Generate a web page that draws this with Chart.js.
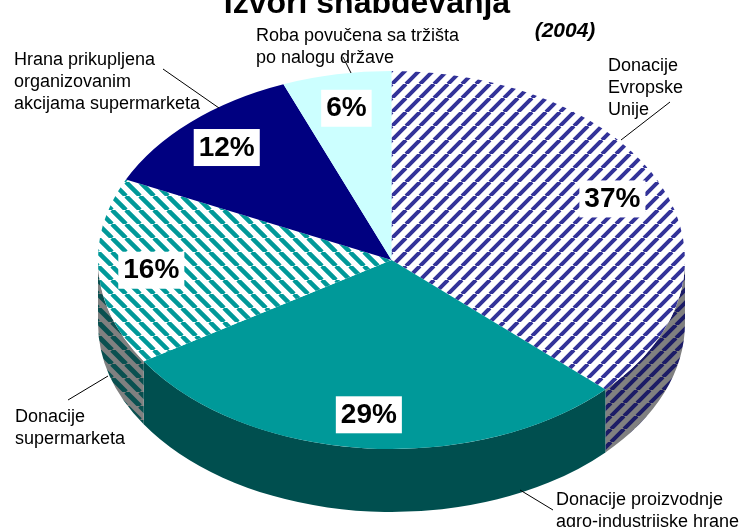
<!DOCTYPE html>
<html>
<head>
<meta charset="utf-8">
<script src="https://cdn.jsdelivr.net/npm/chart.js@4"></script>
<style>
  html, body { margin: 0; padding: 0; background: #fff; }
  canvas { display: block; }
</style>
</head>
<body>
<canvas id="chart" width="744" height="527"></canvas>
<script>
const title = 'Izvori snabdevanja';
const subtitle = '(2004)';
const categories = [
  'Donacije Evropske Unije',
  'Donacije proizvodnje agro-industrijske hrane',
  'Donacije supermarketa',
  'Hrana prikupljena organizovanim akcijama supermarketa',
  'Roba povučena sa tržišta po nalogu države'
];
const shares = [37, 29, 16, 12, 6];
const labelLines = [
  ['Donacije', 'Evropske', 'Unije'],
  ['Donacije proizvodnje', 'agro-industrijske hrane'],
  ['Donacije', 'supermarketa'],
  ['Hrana prikupljena', 'organizovanim', 'akcijama supermarketa'],
  ['Roba povučena sa tržišta', 'po nalogu države']
];

// screen placement of the category captions + leader lines
const captionLayout = [
  { x: 608, y: 71, line: [670, 102, 621, 140] },
  { x: 556, y: 505, line: [553, 510, 520, 490] },
  { x: 15, y: 422, line: [68, 400, 108, 376] },
  { x: 14, y: 65, line: [163, 69, 219, 108] },
  { x: 256, y: 41, line: [343, 57, 351, 73] }
];

// the tilted pie: ellipse of the top face and height of the wall
const pie3d = { cx: 391.5, cy: 260, rx: 293.5, ry: 189, depth: 63, labelAt: 0.82 };

const canvas = document.getElementById('chart');
const ctx = canvas.getContext('2d');

function stripes(bg, fg, size, width, dir) {
  const c = document.createElement('canvas');
  c.width = c.height = size;
  const g = c.getContext('2d');
  g.fillStyle = bg;
  g.fillRect(0, 0, size, size);
  g.strokeStyle = fg;
  g.lineWidth = width;
  g.beginPath();
  for (let k = -1; k <= 1; k++) {
    if (dir === '/') {
      g.moveTo(k * size, size);
      g.lineTo(k * size + size, 0);
    } else {
      g.moveTo(k * size, 0);
      g.lineTo(k * size + size, size);
    }
  }
  g.stroke();
  return ctx.createPattern(c, 'repeat');
}

const euTop = stripes('#ffffff', '#333399', 14, 4, '/');
const superTop = stripes('#ffffff', '#009999', 14, 4.5, '\\');
const topColors = [euTop, '#009999', superTop, '#000080', '#ccffff'];
const sideColors = [
  stripes('#808080', '#1c1c66', 13, 4, '/'),
  '#004f4f',
  stripes('#808080', '#0a5050', 14, 5, '\\'),
  '#000050',
  '#80a0a0'
];

const pie3dPlugin = {
  id: 'pie3d',
  beforeDatasetsDraw(chart) {
    const c = chart.ctx;
    const arcs = chart.getDatasetMeta(0).data;
    const { cx, cy, rx, ry, depth } = pie3d;

    // wall: only the front half can be seen
    arcs.forEach((arc, i) => {
      const a0 = Math.max(arc.startAngle, 0);
      const a1 = Math.min(arc.endAngle, Math.PI);
      if (a1 <= a0) return;
      c.beginPath();
      c.ellipse(cx, cy, rx, ry, 0, a0, a1);
      c.ellipse(cx, cy + depth, rx, ry, 0, a1, a0, true);
      c.closePath();
      c.fillStyle = sideColors[i];
      c.fill();
    });

    // squash the flat pie onto the top ellipse
    const a = arcs[0];
    c.save();
    c.translate(cx, cy);
    c.scale(rx / a.outerRadius, ry / a.outerRadius);
    c.translate(-a.x, -a.y);
    const inv = c.getTransform().inverse();
    euTop.setTransform(inv);
    superTop.setTransform(inv);
  },
  afterDatasetsDraw(chart) {
    chart.ctx.restore();
  },
  afterDraw(chart) {
    const c = chart.ctx;
    const arcs = chart.getDatasetMeta(0).data;
    const { cx, cy, rx, ry, labelAt } = pie3d;

    c.save();
    c.fillStyle = '#000';
    c.textAlign = 'center';
    c.textBaseline = 'alphabetic';
    c.font = 'bold 32px "Liberation Sans", Arial, sans-serif';
    c.fillText(title, 367, 13);
    c.font = 'italic bold 21px "Liberation Sans", Arial, sans-serif';
    c.fillText(subtitle, 565, 37);

    // percentage boxes
    c.font = 'bold 28px "Liberation Sans", Arial, sans-serif';
    c.textBaseline = 'middle';
    arcs.forEach((arc, i) => {
      const mid = (arc.startAngle + arc.endAngle) / 2;
      const x = cx + rx * labelAt * Math.cos(mid);
      const y = cy + ry * labelAt * Math.sin(mid);
      const txt = shares[i] + '%';
      const w = c.measureText(txt).width + 10;
      c.fillStyle = '#fff';
      c.fillRect(x - w / 2, y - 18, w, 37);
      c.fillStyle = '#000';
      c.fillText(txt, x, y + 1);
    });

    // category captions with leader lines
    c.font = '18px "Liberation Sans", Arial, sans-serif';
    c.textAlign = 'left';
    c.textBaseline = 'alphabetic';
    c.strokeStyle = '#000';
    c.lineWidth = 1;
    labelLines.forEach((lines, i) => {
      const p = captionLayout[i];
      lines.forEach((t, k) => c.fillText(t, p.x, p.y + k * 21.8));
      c.beginPath();
      c.moveTo(p.line[0], p.line[1]);
      c.lineTo(p.line[2], p.line[3]);
      c.stroke();
    });
    c.restore();
  }
};

new Chart(ctx, {
  type: 'pie',
  data: {
    labels: categories,
    datasets: [{
      data: shares,
      backgroundColor: topColors,
      borderWidth: 0,
      hoverOffset: 0,
      clip: false
    }]
  },
  options: {
    responsive: false,
    animation: false,
    devicePixelRatio: 1,
    events: [],
    plugins: {
      legend: { display: false },
      tooltip: { enabled: false }
    }
  },
  plugins: [pie3dPlugin]
});
</script>
</body>
</html>
